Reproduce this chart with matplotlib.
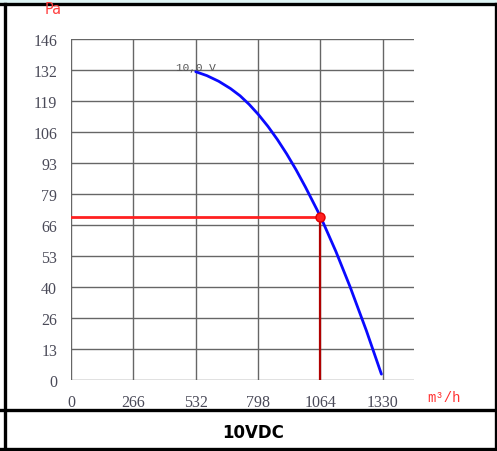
import matplotlib
matplotlib.use("Agg")
import matplotlib.pyplot as plt
from matplotlib.lines import Line2D
import numpy as np

# Fan curve at 10 V DC: airflow (m³/h) vs static pressure (Pa)
flow = [532, 580, 630, 680, 721, 760, 799, 840, 880, 920, 960, 1000, 1064,
        1130, 1190, 1260, 1324]
pressure = [132.0, 130.3, 127.9, 124.8, 121.7, 118.0, 113.7, 108.6, 103.0, 96.8,
            90.0, 82.6, 70.0, 55.0, 40.0, 21.1, 2.5]

# Operating point
op_flow = 1064
op_pressure = 70

x_ticks = [0, 266, 532, 798, 1064, 1330]
x_labels = ["0", "266", "532", "798", "1064", "1330"]
y_labels = ["0", "13", "26", "40", "53", "66", "79", "93", "106", "119", "132", "146"]
y_max = 146
x_max = 1463

curve_label = "10,0 V"
title = "10VDC"

W, H = 497, 452
fig = plt.figure(figsize=(W / 100, H / 100), dpi=100)
ax = fig.add_axes([71 / W, (H - 381) / H, (414 - 71) / W, (381 - 40) / H])

ax.set_xlim(0, x_max)
ax.set_ylim(0, y_max)
y_ticks = np.linspace(0, y_max, len(y_labels))

grid_kw = dict(color="#666666", lw=1.0, zorder=1)
for yt in y_ticks:
    ax.plot([0, x_max], [yt, yt], **grid_kw)
for xt in x_ticks:
    ax.plot([xt, xt], [0, y_max], **grid_kw)

for s in ax.spines.values():
    s.set_visible(False)

tick_font = dict(family="Liberation Serif", size=11.5)
ax.set_xticks(x_ticks)
ax.set_xticklabels(x_labels, color="#4a4a58", **tick_font)
ax.set_yticks(y_ticks)
ax.set_yticklabels(y_labels, color="#4a4a58", **tick_font)
ax.tick_params(length=0, pad=10)

# curve
ax.plot(flow, pressure, color="#0a0aff", lw=2.0, zorder=3,
        solid_capstyle="round", solid_joinstyle="round")
ax.text(flow[0], pressure[0] - 0.3, curve_label, fontsize=8, family="Liberation Mono",
        color="#555555", ha="center", va="bottom", zorder=4)

# operating point guides
ax.plot([0, op_flow], [op_pressure, op_pressure], color="#ff2020", lw=2.0, zorder=2)
ax.plot([op_flow, op_flow], [0, op_pressure], color="#b00000", lw=1.6, zorder=2)
ax.plot([op_flow], [op_pressure], "o", ms=6.5, color="#ff2020", mec="#e00000", zorder=5)

# axis units
fig.text(45 / W, 1 - 9 / H, "Pa", color="#ff4040", fontsize=10.5,
         family="DejaVu Sans", ha="left", va="center")
fig.text(427 / W, 1 - 398 / H, "m³/h", color="#ff3030", fontsize=10,
         family="Liberation Mono", ha="left", va="center")

# frame
fig.patches.append(plt.Rectangle((0, 1 - 3 / H), 1, 3 / H, transform=fig.transFigure,
                                 color="#dff5f5", zorder=0))
frame_kw = dict(color="black", lw=2.4, transform=fig.transFigure)
fig.lines.append(Line2D([0, 1], [1 - 4.5 / H, 1 - 4.5 / H], **frame_kw))
fig.lines.append(Line2D([4.5 / W, 4.5 / W], [0, 1 - 4.5 / H], **frame_kw))
fig.lines.append(Line2D([0, 1], [1 - 410.5 / H, 1 - 410.5 / H], **frame_kw))
fig.lines.append(Line2D([0, 1], [1 - 449.5 / H, 1 - 449.5 / H], **frame_kw))
fig.lines.append(Line2D([495.5 / W, 495.5 / W], [0, 1 - 4.5 / H], **frame_kw))

fig.text(253 / W, 1 - 433 / H, title, fontsize=12, fontweight="bold",
         family="DejaVu Sans", ha="center", va="center")

fig.savefig("out.png", dpi=100)
